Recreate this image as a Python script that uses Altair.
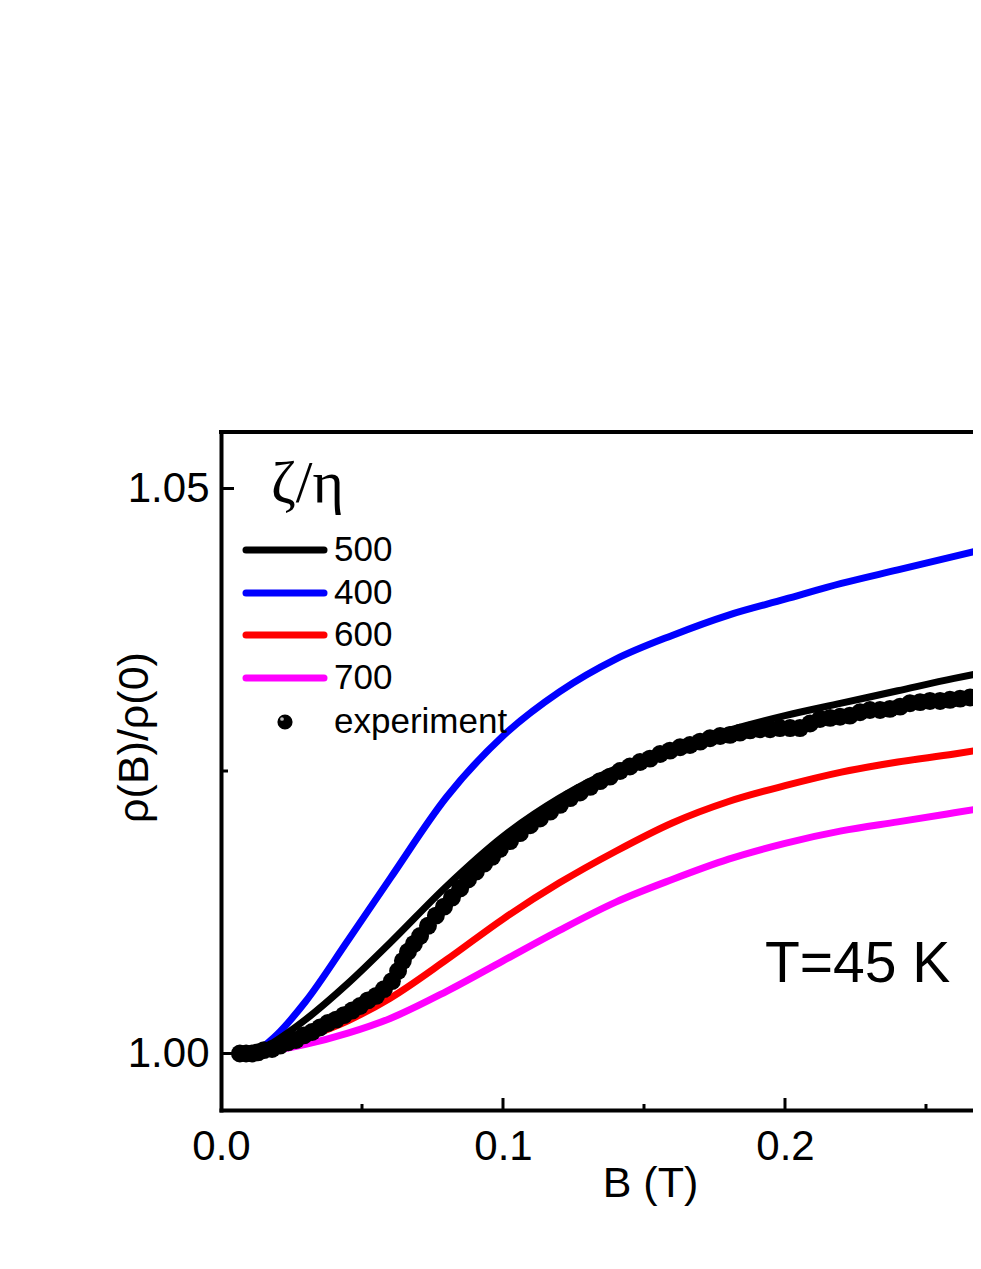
import altair as alt
import pandas as pd

# ---------------- data ----------------
B_model = [0.012, 0.02, 0.03, 0.045, 0.06, 0.08, 0.10, 0.12, 0.14, 0.16,
           0.18, 0.20, 0.22, 0.24, 0.26, 0.27]
R_500 = [1.0000, 1.0012, 1.0030, 1.0062, 1.0098, 1.0148, 1.0192, 1.0226, 1.0252, 1.0271,
         1.0286, 1.0299, 1.0310, 1.0321, 1.0332, 1.0337]
R_400 = [1.0000, 1.0017, 1.0046, 1.0100, 1.0155, 1.0227, 1.0281, 1.0320, 1.0349, 1.0370,
         1.0388, 1.0402, 1.0416, 1.0428, 1.0440, 1.0446]
R_600 = [1.0000, 1.0005, 1.0014, 1.0029, 1.0049, 1.0083, 1.0119, 1.0151, 1.0179, 1.0204,
         1.0223, 1.0237, 1.0249, 1.0258, 1.0265, 1.0269]
R_700 = [1.0000, 1.0003, 1.0008, 1.0018, 1.0031, 1.0055, 1.0082, 1.0109, 1.0134, 1.0154,
         1.0172, 1.0186, 1.0197, 1.0205, 1.0213, 1.0217]

B_exp = [0.0067, 0.0089, 0.0110, 0.0131, 0.0152, 0.0181, 0.0209, 0.0238, 0.0266, 0.0294,
         0.0323, 0.0351, 0.0379, 0.0408, 0.0436, 0.0465, 0.0493, 0.0521, 0.0550, 0.0578,
         0.0606, 0.0628, 0.0645, 0.0663, 0.0684, 0.0706, 0.0734, 0.0762, 0.0791, 0.0819,
         0.0848, 0.0876, 0.0904, 0.0933, 0.0961, 0.0989, 0.1025, 0.1060, 0.1096, 0.1131,
         0.1167, 0.1202, 0.1238, 0.1273, 0.1309, 0.1344, 0.1379, 0.1415, 0.1450, 0.1486,
         0.1521, 0.1557, 0.1592, 0.1628, 0.1663, 0.1699, 0.1734, 0.1770, 0.1805, 0.1840,
         0.1876, 0.1911, 0.1947, 0.1982, 0.2018, 0.2053, 0.2089, 0.2124, 0.2160, 0.2195,
         0.2230, 0.2266, 0.2301, 0.2337, 0.2372, 0.2408, 0.2443, 0.2479, 0.2514, 0.2550,
         0.2585, 0.2621, 0.2656, 0.2684]
R_exp = [1.0000, 1.0000, 1.0000, 1.0001, 1.0003, 1.0004, 1.0007, 1.0010, 1.0012, 1.0016,
         1.0019, 1.0023, 1.0027, 1.0030, 1.0034, 1.0038, 1.0042, 1.0047, 1.0051, 1.0057,
         1.0064, 1.0073, 1.0082, 1.0090, 1.0097, 1.0104, 1.0113, 1.0122, 1.0130, 1.0138,
         1.0146, 1.0154, 1.0161, 1.0168, 1.0174, 1.0181, 1.0188, 1.0195, 1.0202, 1.0208,
         1.0214, 1.0220, 1.0226, 1.0231, 1.0236, 1.0241, 1.0245, 1.0250, 1.0254, 1.0258,
         1.0261, 1.0265, 1.0268, 1.0271, 1.0273, 1.0276, 1.0279, 1.0281, 1.0282, 1.0284,
         1.0286, 1.0287, 1.0287, 1.0288, 1.0288, 1.0288, 1.0292, 1.0296, 1.0297, 1.0298,
         1.0299, 1.0302, 1.0304, 1.0304, 1.0305, 1.0307, 1.0310, 1.0311, 1.0312, 1.0312,
         1.0313, 1.0314, 1.0315, 1.0315]

series_labels = ["500", "400", "600", "700"]
series_values = [R_500, R_400, R_600, R_700]
series_colors = ["#000000", "#0000ff", "#ff0000", "#ff00ff"]
exp_label = "experiment"
legend_title = "ζ/η"
annotation = "T=45 K"

x_tick_labels = [0.0, 0.1, 0.2]
x_minor = [0.05, 0.15, 0.25]
y_tick_labels = [1.00, 1.05]
y_minor = [1.025]

# ---------------- layout ----------------
W, H = 752, 678
FONT = "Liberation Sans"
xscale = alt.Scale(domain=[0.0, 0.26667], nice=False, zero=False)
yscale = alt.Scale(domain=[0.995, 1.055], nice=False, zero=False)

xaxis = alt.Axis(
    values=x_tick_labels, format=".1f", grid=False, ticks=False,
    labelFont=FONT, labelFontSize=42, labelColor="black", labelPadding=16,
    domainColor="black", domainWidth=4, domainCap="square", labelFlush=False,
    title="B (T)", titleFont=FONT, titleFontSize=43, titleFontWeight="normal",
    titleColor="black", titleX=429, titleY=86, titleAlign="center",
    titleBaseline="alphabetic")
yaxis = alt.Axis(
    values=y_tick_labels, format=".2f", grid=False, ticks=False,
    labelFont=FONT, labelFontSize=42, labelColor="black", labelPadding=12,
    domainColor="black", domainWidth=4, domainCap="square",
    title="ρ(B)/ρ(0)", titleFont=FONT, titleFontSize=43, titleFontWeight="normal",
    titleColor="black", titleAngle=270, titleX=-74, titleY=305, titleAlign="center",
    titleBaseline="alphabetic")


def X(field):
    return alt.X(field, scale=xscale, axis=xaxis)


def Y(field):
    return alt.Y(field, scale=yscale, axis=yaxis)


layers = []

# model curves
for i in [3, 2, 1, 0]:
    df = pd.DataFrame({"B": B_model, "R": series_values[i]})
    layers.append(
        alt.Chart(df).mark_line(color=series_colors[i], strokeWidth=7, clip=True,
                                interpolate="monotone", strokeCap="round")
        .encode(x=X("B:Q"), y=Y("R:Q"))
    )

# experiment points
exp_df = pd.DataFrame({"B": B_exp, "R": R_exp})
layers.append(
    alt.Chart(exp_df).mark_circle(size=320, color="black", opacity=1, clip=True)
    .encode(x=X("B:Q"), y=Y("R:Q"))
)

# top frame line
layers.append(
    alt.Chart(pd.DataFrame({"a": [0]})).mark_rule(color="black", strokeWidth=4, strokeCap="square")
    .encode(x=alt.value(0), x2=alt.value(W), y=alt.value(0))
)


# inward ticks
def xticks(vals, length):
    return alt.Chart(pd.DataFrame({"B": vals})).mark_rule(color="black", strokeWidth=3).encode(
        x=X("B:Q"), y=alt.value(H), y2=alt.value(H - length))


def yticks(vals, length):
    return alt.Chart(pd.DataFrame({"R": vals})).mark_rule(color="black", strokeWidth=3).encode(
        y=Y("R:Q"), x=alt.value(0), x2=alt.value(length))


layers += [xticks(x_tick_labels[1:], 12), xticks(x_minor, 6),
           yticks(y_tick_labels, 13), yticks(y_minor, 7)]

# annotation
layers.append(
    alt.Chart(pd.DataFrame({"t": [annotation]})).mark_text(
        font=FONT, fontSize=57, align="left", baseline="alphabetic", color="black")
    .encode(x=alt.datum(0.1929, scale=xscale, axis=xaxis),
            y=alt.datum(1.0063, scale=yscale, axis=yaxis), text="t:N")
)

# legend (drawn by hand)
LX0, LX1, LTX = 25, 103, 113
row_y = [118, 161, 203, 246]
layers.append(
    alt.Chart(pd.DataFrame({"t": [legend_title]})).mark_text(
        font="Liberation Serif", fontSize=60, align="left", baseline="alphabetic", color="black")
    .encode(x=alt.value(50), y=alt.value(70), text="t:N")
)
for lab, col, ry in zip(series_labels, series_colors, row_y):
    d = pd.DataFrame({"t": [lab]})
    layers.append(alt.Chart(d).mark_rule(color=col, strokeWidth=7, strokeCap="round")
                  .encode(x=alt.value(LX0), x2=alt.value(LX1), y=alt.value(ry)))
    layers.append(alt.Chart(d).mark_text(font=FONT, fontSize=35, align="left",
                                         baseline="middle", color="black")
                  .encode(x=alt.value(LTX), y=alt.value(ry), text="t:N"))
d = pd.DataFrame({"t": [exp_label]})
layers.append(alt.Chart(d).mark_circle(size=230, color="black", opacity=1)
              .encode(x=alt.value(64), y=alt.value(290)))
layers.append(alt.Chart(d).mark_circle(size=14, color="#bbbbbb", opacity=1)
              .encode(x=alt.value(61), y=alt.value(287)))
layers.append(alt.Chart(d).mark_text(font=FONT, fontSize=35, align="left",
                                     baseline="middle", color="black")
              .encode(x=alt.value(LTX), y=alt.value(290), text="t:N"))

chart = alt.layer(*layers).properties(
    width=W, height=H,
    padding={"left": 213, "top": 424, "right": 0, "bottom": 140},
    autosize=alt.AutoSizeParams(type="none"),
    background="white",
).configure_view(stroke=None)

chart.save("out.html", embed_options={"renderer": "svg", "actions": False})
